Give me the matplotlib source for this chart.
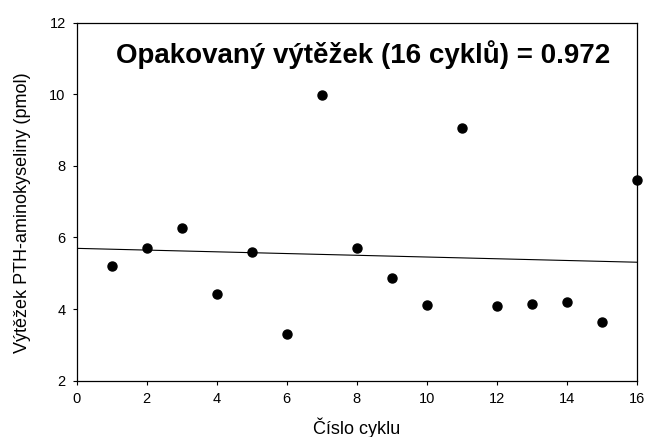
import numpy as np
import matplotlib
matplotlib.use("Agg")
import matplotlib.pyplot as plt

plt.rcParams['font.family'] = ['Liberation Sans', 'DejaVu Sans']

cycles = [1, 2, 3, 4, 5, 6, 7, 8, 9, 10, 11, 12, 13, 14, 15, 16]
yields = [5.20, 5.70, 6.26, 4.42, 5.59, 3.31, 9.98, 5.70, 4.88, 4.11, 9.05, 4.08, 4.13, 4.19, 3.64, 7.60]
title_text = "Opakovaný výtěžek (16 cyklů) = 0.972"
x_label = "Číslo cyklu"
y_label = "Výtěžek PTH-aminokyseliny (pmol)"
x_ticks = [0, 2, 4, 6, 8, 10, 12, 14, 16]
y_ticks = [2, 4, 6, 8, 10, 12]

fig = plt.figure(figsize=(6.45, 4.37), dpi=100)
ax = fig.add_axes([0.119, 0.129, 0.868, 0.819])

slope, intercept = np.polyfit(cycles, yields, 1)
xl = np.array([0, 16])
ax.plot(xl, intercept + slope * xl, color='black', lw=0.8, zorder=2)
ax.plot(cycles, yields, 'o', color='black', markersize=6.5, zorder=3, clip_on=False)

ax.set_xlim(0, 16)
ax.set_ylim(2, 12)
ax.set_xticks(x_ticks)
ax.set_yticks(y_ticks)
ax.tick_params(direction='out', length=3, width=0.8, labelsize=10.5, pad=5)
for s in ax.spines.values():
    s.set_linewidth(0.9)

ax.set_xlabel(x_label, fontsize=13)
ax.set_ylabel(y_label, fontsize=13)
ax.xaxis.set_label_coords(0.5, -0.104)
ax.yaxis.set_label_coords(-0.081, 0.47)

ax.text(0.512, 0.91, title_text, transform=ax.transAxes, ha='center', va='center',
        fontsize=20, fontweight='bold')

fig.savefig("out.png", dpi=100)
